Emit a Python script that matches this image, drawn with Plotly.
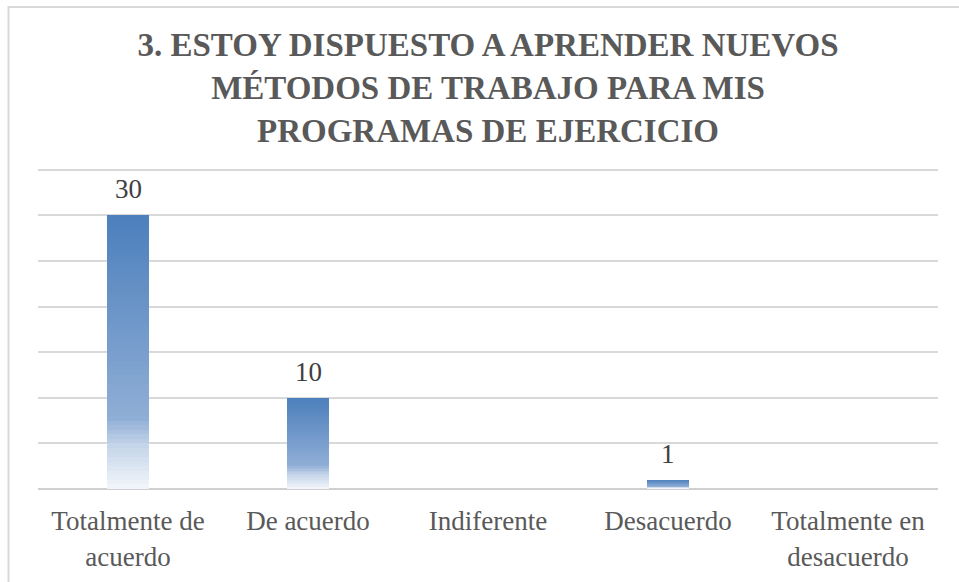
import plotly.graph_objects as go

# ---- data ----
categories = ["Totalmente de<br>acuerdo", "De acuerdo", "Indiferente", "Desacuerdo", "Totalmente en<br>desacuerdo"]
values = [30, 10, 0, 1, 0]
title_text = "3. ESTOY DISPUESTO A APRENDER NUEVOS<br>MÉTODOS DE TRABAJO PARA MIS<br>PROGRAMAS DE EJERCICIO"

# gradient stops (fraction from top of bar, rgb)
grad_stops = [(0.0, (76, 127, 188)), (0.74, (143, 174, 214)), (0.84, (196, 212, 233)), (1.0, (243, 246, 251))]


def grad_color(t):
    for (t0, c0), (t1, c1) in zip(grad_stops[:-1], grad_stops[1:]):
        if t0 <= t <= t1:
            f = (t - t0) / (t1 - t0) if t1 > t0 else 0
            return "rgb(%d,%d,%d)" % tuple(round(a + (b - a) * f) for a, b in zip(c0, c1))
    return "rgb(%d,%d,%d)" % grad_stops[-1][1]


FONT = "Liberation Serif"
N = 60
BW = 0.228
MT, MB = 168, 93
PH = 582 - MT - MB

fig = go.Figure()
# draw the bar as nested bars from 0 up to k/N of each value, tallest first
for k in range(N, 0, -1):
    t = 1 - (k - 0.5) / N
    fig.add_trace(go.Bar(
        x=categories,
        y=[v * k / N for v in values],
        width=BW,
        marker=dict(color=grad_color(t), line=dict(width=0)),
        hoverinfo="skip",
        showlegend=False,
    ))

annotations = []
for c, v in zip(categories, values):
    if v:
        annotations.append(dict(
            x=c, y=v, xref="x", yref="y", text=str(v), showarrow=False,
            yanchor="bottom", yshift=9,
            font=dict(family=FONT, size=27, color="#404040"),
        ))

fig.update_layout(
    width=959, height=582,
    barmode="overlay",
    bargap=0,
    paper_bgcolor="white",
    plot_bgcolor="white",
    margin=dict(l=38, r=21, t=MT, b=MB),
    title=dict(
        text=title_text,
        x=0.5, xref="paper", xanchor="center",
        y=1 - 56 / 582, yref="container", yanchor="top",
        font=dict(family=FONT, size=33, color="#595959", weight="bold"),
    ),
    xaxis=dict(
        showgrid=False, showline=False, zeroline=False, automargin=False,
        ticks="outside", ticklen=8, tickcolor="rgba(0,0,0,0)",
        tickfont=dict(family=FONT, size=27, color="#595959"),
    ),
    yaxis=dict(
        range=[0, 35.2], dtick=5, showticklabels=False, automargin=False,
        showgrid=True, gridcolor="#d9d9d9", gridwidth=1.5,
        zeroline=True, zerolinecolor="#d0d0d0", zerolinewidth=1.5,
        showline=False,
    ),
    annotations=annotations,
    shapes=[dict(
        type="rect", xref="paper", yref="paper",
        x0=(8.5 - 38) / 900, x1=1.3, y0=-0.6, y1=1 + (MT - 7) / PH,
        line=dict(color="#d9d9d9", width=2), layer="below",
    )],
)

fig.write_html("out.html", config={"displayModeBar": False},
               post_script="document.body.style.margin='0';")
